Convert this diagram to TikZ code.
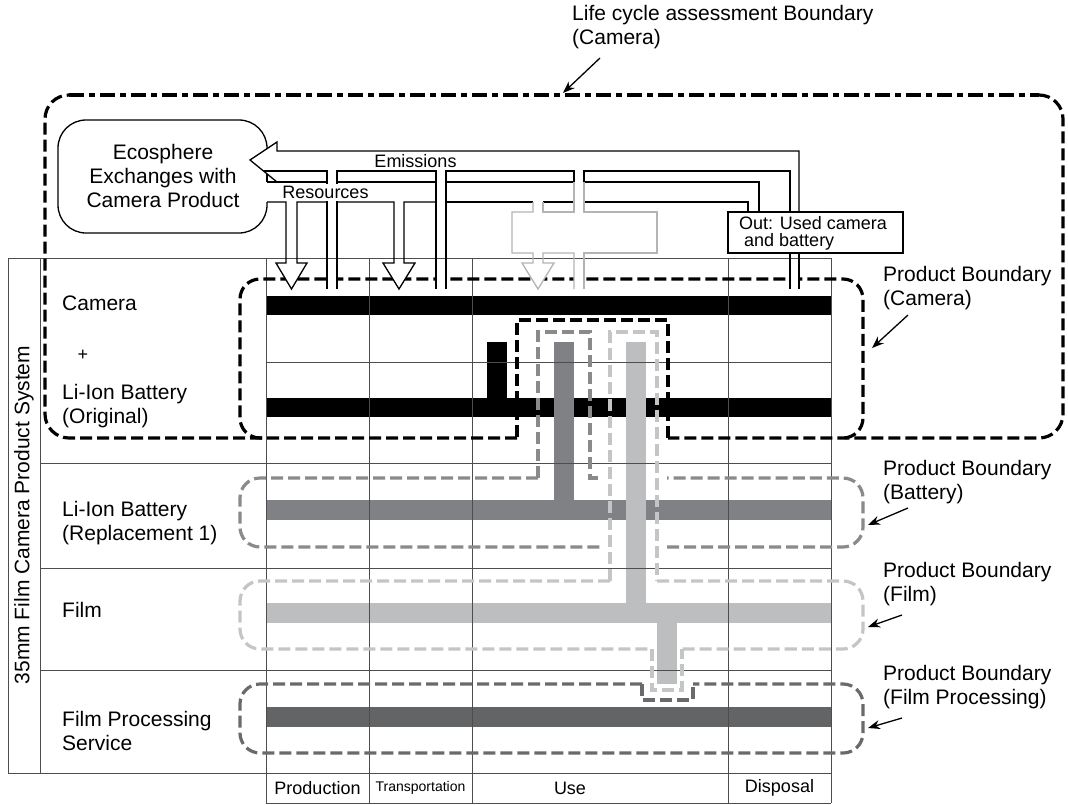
\documentclass[tikz,border=0pt]{standalone}
\usepackage{fontspec}
\setmainfont{Liberation Sans}
\usetikzlibrary{arrows.meta}
\definecolor{tabline}{HTML}{4D4D4D}
\definecolor{gA}{HTML}{8A8A8C}
\definecolor{gB}{HTML}{C4C5C7}
\definecolor{gC}{HTML}{6A6A6C}
\definecolor{barA}{HTML}{808184}
\definecolor{barB}{HTML}{BCBEC0}
\definecolor{barC}{HTML}{636466}
\definecolor{usegrey}{HTML}{B4B4B4}
\begin{document}
\begin{tikzpicture}[x=1pt,y=-1pt,
 tl/.style={draw=tabline,line width=0.9pt},
 fl/.style={draw=black,line width=1.3pt},
 ug/.style={draw=usegrey,line width=1.3pt},
 dashreg/.style={line width=3.2pt,dash pattern=on 12pt off 5pt},
 lcaR/.style={draw=black,dashreg},
 lcaT/.style={draw=black,line width=3.2pt,dash pattern=on 15pt off 5pt on 6pt off 5pt},
 pbA/.style={draw=black,dashreg},
 pbB/.style={draw=gA,dashreg},
 pbC/.style={draw=gB,dashreg},
 pbD/.style={draw=gC,dashreg},
 la/.style={line width=1.3pt,-{Stealth[length=12pt,width=9pt]}},
 big/.style={inner sep=0pt,font=\fontsize{21}{24}\selectfont,align=left},
 mid/.style={inner sep=0pt,font=\fontsize{18}{17}\selectfont,align=left},
 sml/.style={inner sep=0pt,font=\fontsize{14}{16}\selectfont}
]
\useasboundingbox (0,0) rectangle (1068,804);
\fill[white] (0,0) rectangle (1068,804);

% ---- bars
\fill[black] (266,296) rectangle (831,315);
\fill[black] (266,398) rectangle (831,417);
\fill[black] (487,342) rectangle (507,398);
\fill[barA] (266,500) rectangle (831,520);
\fill[barA] (554,342) rectangle (574,500);
\fill[barB] (266,603) rectangle (831,623);
\fill[barB] (626,342) rectangle (646,603);
\fill[barB] (657,623) rectangle (677,684);
\fill[barC] (266,707) rectangle (831,727);

% ---- table
\draw[tl] (8,258) -- (831,258);
\draw[tl] (8,258) -- (8,773);
\draw[tl] (40,258) -- (40,773);
\foreach \x in {266,369,472,728,831} \draw[tl] (\x,258) -- (\x,803);
\draw[tl] (266,362) -- (831,362);
\foreach \y in {463,568,670} \draw[tl] (40,\y) -- (831,\y);
\draw[tl] (8,773) -- (831,773);
\draw[tl] (266,803) -- (831,803);

% ---- LCA boundary
\draw[lcaR, rounded corners=24] (517,438) -- (45,438) -- (45,95) -- (70,95);
\draw[lcaT] (69,95) -- (1039,95);
\draw[lcaR, rounded corners=24] (1038,95) -- (1063,95) -- (1063,438) -- (668,438);
\draw[pbA] (668,438) -- (668,320) -- (517,320) -- (517,438);
% ---- product boundary camera
\draw[pbA, rounded corners=20] (262,438) -- (240,438) -- (240,279) -- (863,279) -- (863,438) -- (841,438);
% ---- battery
\draw[pbB, rounded corners=20] (538,478) -- (240,478) -- (240,547) -- (600,547);
\draw[pbB, rounded corners=20] (667,547) -- (863,547) -- (863,478) -- (667,478);
\draw[pbB] (538,478) -- (538,332) -- (590,332) -- (590,478) -- (600,478);
% ---- film
\draw[pbC, rounded corners=20] (610,581) -- (240,581) -- (240,649) -- (652,649);
\draw[pbC] (610,581) -- (610,332) -- (657,332) -- (657,581);
\draw[pbC, rounded corners=20] (657,581) -- (863,581) -- (863,649) -- (682,649);
\draw[pbC] (652,649) -- (652,690) -- (682,690) -- (682,649);
% ---- film processing
\draw[pbD, rounded corners=20] (642,684) -- (240,684) -- (240,753) -- (863,753) -- (863,684) -- (693,684);
\draw[pbD] (642,684) -- (642,700) -- (693,700) -- (693,684);

% ---- ecosphere box
\draw[fl, rounded corners=28] (267,202) -- (267,233) -- (58,233) -- (58,120) -- (267,120) -- (267,149);
\draw[fl] (267,174) -- (267,182);
\node[big, align=center] (eco) at (163,176) {Ecosphere\\Exchanges with\\Camera Product};

% ---- white channel interiors
\foreach \a/\b in {286/297,327/337,394/404,436/446,533/543,574/584,790/799}
  \fill[white] (\a,262) rectangle (\b,289);
\fill[white] (276,263) -- (291.5,289) -- (307,263) -- cycle;
\fill[white] (383,263) -- (399,289) -- (415,263) -- cycle;
\fill[white] (522,263) -- (538,289) -- (554,263) -- cycle;

% ---- emissions
\draw[fl] (799,212) -- (799,151) -- (277,151) -- (277,142) -- (250,160) -- (277,182);
\draw[fl] (263.5,171) -- (327,171) -- (327,289);
\draw[fl] (337,289) -- (337,171) -- (436,171) -- (436,289);
\draw[fl] (446,289) -- (446,171) -- (574,171) -- (574,182);
\draw[fl] (584,182) -- (584,171) -- (790,171) -- (790,212);
% ---- resources
\draw[fl] (267,182) -- (327,182);
\draw[fl] (337,182) -- (436,182);
\draw[fl] (446,182) -- (574,182);
\draw[fl] (584,182) -- (759,182) -- (759,212);
\draw[fl] (267,202) -- (286,202) -- (286,263) -- (276,263) -- (291.5,289) -- (307,263) -- (297,263) -- (297,202) -- (327,202);
\draw[fl] (337,202) -- (394,202) -- (394,263) -- (383,263) -- (399,289) -- (415,263) -- (404,263) -- (404,202) -- (436,202);
\draw[fl] (446,202) -- (533,202);
\draw[fl] (543,202) -- (574,202);
\draw[fl] (584,202) -- (748,202) -- (748,212);
% ---- use (grey)
\draw[ug] (533,202) -- (533,212) -- (512,212) -- (512,253) -- (533,253) -- (533,263) -- (522,263) -- (538,289) -- (554,263) -- (543,263) -- (543,253) -- (574,253) -- (574,289);
\draw[ug] (584,289) -- (584,253) -- (657,253) -- (657,212) -- (584,212) -- (584,182);
\draw[ug] (574,182) -- (574,212) -- (543,212) -- (543,202);
% ---- out box
\draw[fl] (728,212) rectangle (903,253);
\draw[fl] (790,253) -- (790,289);
\draw[fl] (799,253) -- (799,289);
\node[mid, anchor=west] (outtxt) at (739,233) {Out: Used camera\\\hspace*{5pt}and battery};

\fill[white] (300,183.5) rectangle (352,200.5);
\node[mid] (res) at (325.5,192) {Resources};
\node[mid] (emis) at (415.5,161) {Emissions};

% ---- row labels
\node[big, anchor=west] (rcam) at (62,303) {Camera};
\node[mid] (plus) at (83,355) {+};
\node[big, anchor=west] (rli) at (62,406) {Li-Ion Battery\\(Original)};
\node[big, anchor=west] (rrep) at (62,523) {Li-Ion Battery\\(Replacement 1)};
\node[big, anchor=west] (rfilm) at (62,610) {Film};
\node[big, anchor=west] (rproc) at (62,731) {Film Processing\\Service};
\node[big, rotate=90] (sys) at (24,515) {35mm Film Camera Product System};

% ---- phase labels
\node[mid] (p1) at (317.5,788) {Production};
\node[sml] (p2) at (420.5,788) {Transportation};
\node[mid] (p3) at (570,788) {Use};
\node[mid] (p4) at (779.5,788) {Disposal};

% ---- right labels
\node[big, anchor=west] (lca) at (572,27) {Life cycle assessment Boundary\\(Camera)};
\node[big, anchor=west] (bcam) at (883,288) {Product Boundary\\(Camera)};
\node[big, anchor=west] (bbat) at (883,482) {Product Boundary\\(Battery)};
\node[big, anchor=west] (bfilm) at (883,584) {Product Boundary\\(Film)};
\node[big, anchor=west] (bproc) at (883,687) {Product Boundary\\(Film Processing)};

\coordinate (a1s) at (600,58);  \coordinate (a1e) at (563,93);
\coordinate (a2s) at (908,315); \coordinate (a2e) at (872,348);
\coordinate (a3s) at (908,508); \coordinate (a3e) at (868,525);
\coordinate (a4s) at (902,615); \coordinate (a4e) at (868,627);
\coordinate (a5s) at (902,718); \coordinate (a5e) at (868,728);
\draw[la] (a1s) -- (a1e);
\draw[la] (a2s) -- (a2e);
\draw[la] (a3s) -- (a3e);
\draw[la] (a4s) -- (a4e);
\draw[la] (a5s) -- (a5e);
\end{tikzpicture}
\end{document}
